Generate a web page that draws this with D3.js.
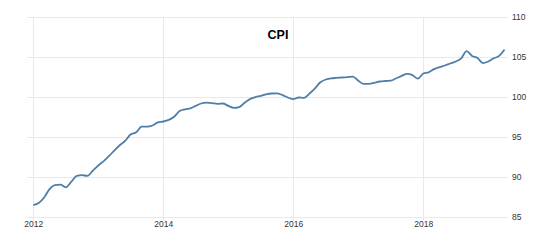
<!DOCTYPE html>
<html>
<head>
<meta charset="utf-8">
<script src="https://cdn.jsdelivr.net/npm/d3@7"></script>
<style>
  html, body { margin: 0; padding: 0; background: #fff; }
  svg { display: block; }
</style>
</head>
<body>
<svg id="chart" width="558" height="242"></svg>
<script>
// Monthly CPI values, Jan 2012 .. Apr 2019
const startYear = 2012;
const cpiValues = [
  86.46, 86.7, 87.4, 88.45, 88.96, 89.0, 88.67, 89.35, 90.1, 90.2, 90.1, 90.75,
  91.4, 91.95, 92.6, 93.3, 93.96, 94.5, 95.3, 95.55, 96.25, 96.25, 96.4, 96.8,
  96.9, 97.1, 97.5, 98.2, 98.42, 98.55, 98.85, 99.15, 99.25, 99.2, 99.1, 99.15,
  98.85, 98.6, 98.7, 99.25, 99.7, 99.95, 100.1, 100.3, 100.4, 100.42, 100.2, 99.9,
  99.7, 99.9, 99.85, 100.4, 101.05, 101.8, 102.15, 102.3, 102.35, 102.4, 102.45, 102.5,
  102.0, 101.6, 101.6, 101.75, 101.9, 101.96, 102.0, 102.3, 102.6, 102.85, 102.7, 102.25,
  102.9, 103.05, 103.45, 103.7, 103.9, 104.15, 104.4, 104.8, 105.7, 105.1, 104.85, 104.2,
  104.4, 104.8, 105.1, 105.9
];
const yTicks = [85, 90, 95, 100, 105, 110];
const xTickYears = [2012, 2014, 2016, 2018];
const title = "CPI";

const data = cpiValues.map((v, i) => ({ t: startYear + i / 12, v }));

const svg = d3.select("#chart");
const x = d3.scaleLinear().domain([2012, 2018]).range([33.3, 423.3]);
const y = d3.scaleLinear().domain([85, 110]).range([216.7, 16.7]);

const gridColor = "#e9e9e9";

// horizontal gridlines
svg.append("g").selectAll("line").data(yTicks).join("line")
  .attr("x1", 27).attr("x2", 508)
  .attr("y1", d => Math.round(y(d)) + 0.5).attr("y2", d => Math.round(y(d)) + 0.5)
  .attr("stroke", gridColor).attr("stroke-width", 1);

// vertical gridlines
svg.append("g").selectAll("line").data(xTickYears).join("line")
  .attr("x1", d => Math.round(x(d)) + 0.5).attr("x2", d => Math.round(x(d)) + 0.5)
  .attr("y1", y(110)).attr("y2", y(85) + 4)
  .attr("stroke", gridColor).attr("stroke-width", 1);

// y axis labels (right)
const yAxis = d3.axisRight(y).tickValues(yTicks).tickSize(0).tickPadding(0);
const gy = svg.append("g").attr("transform", "translate(512,0)").call(yAxis);
gy.select(".domain").remove();
gy.selectAll("text")
  .attr("font-family", "'Liberation Sans', Arial, sans-serif")
  .attr("font-size", 8.5).attr("fill", "#333");

// x axis labels
const xAxis = d3.axisBottom(x).tickValues(xTickYears).tickFormat(d3.format("d")).tickSize(0).tickPadding(0);
const gx = svg.append("g").attr("transform", "translate(0,221)").call(xAxis);
gx.select(".domain").remove();
gx.selectAll("text")
  .attr("font-family", "'Liberation Sans', Arial, sans-serif")
  .attr("font-size", 8.5).attr("fill", "#333");

// title
svg.append("text")
  .attr("x", 278).attr("y", 39)
  .attr("text-anchor", "middle")
  .attr("font-family", "'Liberation Sans', Arial, sans-serif")
  .attr("font-weight", "bold").attr("font-size", 12.5)
  .attr("fill", "#000")
  .text(title);

// line
const line = d3.line().x(d => x(d.t)).y(d => y(d.v)).curve(d3.curveMonotoneX);
svg.append("path").datum(data)
  .attr("d", line)
  .attr("fill", "none")
  .attr("stroke", "#4f7fa8")
  .attr("stroke-width", 1.8)
  .attr("stroke-linejoin", "round");
</script>
</body>
</html>
